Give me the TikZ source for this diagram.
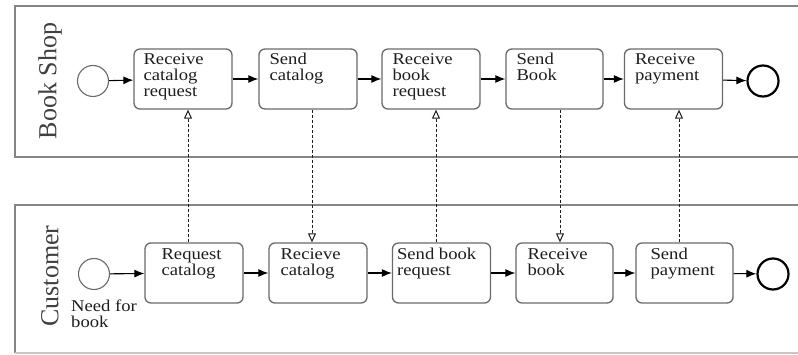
\documentclass[tikz,border=0pt]{standalone}
\usepackage{fontspec}
\setmainfont{Liberation Serif}[FakeStretch=1.13]
\newfontfamily\lanefont{Liberation Serif}
\usetikzlibrary{arrows.meta}
\definecolor{poolgray}{HTML}{858585}
\definecolor{boxgray}{HTML}{6A6A6A}
\definecolor{ink}{HTML}{1E1E1E}
\tikzset{
  pool/.style={draw=poolgray, line width=2pt},
  lanelabel/.style={font=\lanefont\fontsize{26}{28}\selectfont, text=ink!85, rotate=90, inner sep=0pt},
  task/.style={draw=boxgray, line width=1.3pt, rounded corners=6pt, minimum width=98pt, minimum height=60pt, inner sep=0pt},
  tasktext/.style={font=\fontsize{16.5}{16}\selectfont, text=ink, align=left, inner sep=0pt, anchor=north west},
  startev/.style={circle, draw=boxgray, line width=1.1pt, minimum size=31pt, inner sep=0pt},
  endev/.style={circle, draw=black, line width=2.2pt, minimum size=31pt, inner sep=0pt},
  seq/.style={draw=black, line width=1.1pt, -{Latex[length=10pt,width=8pt]}},
  msg/.style={draw=ink, line width=1pt, dash pattern=on 3pt off 2pt, -{Triangle[open,length=9pt,width=8pt]}},
}
\begin{document}
\begin{tikzpicture}[x=1pt,y=-1pt]
\useasboundingbox (0,0) rectangle (798,355);
\fill[white] (0,0) rectangle (798,355);
% pools
\draw[pool] (798,6) -- (15,6) -- (15,157) -- (798,157);
\draw[pool] (798,205) -- (15,205) -- (15,353);
\draw[poolgray!45, line width=1.5pt] (15,353) -- (798,353);
\node[lanelabel] (lshop) at (50,81) {Book Shop};
\node[lanelabel] (lcust) at (50,276) {Customer};
% top row
\node[startev] (s1) at (93,81) {};
\node[task] (T1) at (183,79) {};
\node[task] (T2) at (308,79) {};
\node[task] (T3) at (431,79) {};
\node[task, minimum width=97pt] (T4) at (554.5,79) {};
\node[task] (T5) at (673.5,79) {};
\node[endev] (e1) at (763,81) {};
\node[tasktext] (T1t) at ([xshift=10pt,yshift=-5pt]T1.north west) {Receive\\catalog\\request};
\node[tasktext] (T2t) at ([xshift=11pt,yshift=-5pt]T2.north west) {Send\\catalog};
\node[tasktext] (T3t) at ([xshift=11pt,yshift=-5pt]T3.north west) {Receive\\book\\request};
\node[tasktext] (T4t) at ([xshift=11pt,yshift=-5pt]T4.north west) {Send\\Book};
\node[tasktext] (T5t) at ([xshift=11pt,yshift=-5pt]T5.north west) {Receive\\payment};
\draw[seq] (s1) -- (T1);
\draw[seq] (T1) -- (T2);
\draw[seq] (T2) -- (T3);
\draw[seq] (T3) -- (T4);
\draw[seq] (T4) -- (T5);
\draw[seq] (T5) -- (e1);
% bottom row
\node[startev] (s2) at (94,274) {};
\node[tasktext] (need) at (71,300) {Need for\\book};
\node[task] (B1) at (194,273) {};
\node[task] (B2) at (318,273) {};
\node[task] (B3) at (441.5,273) {};
\node[task, minimum width=97pt] (B4) at (564.5,273) {};
\node[task, minimum width=97pt] (B5) at (684.5,273) {};
\node[endev] (e2) at (773,274) {};
\node[tasktext] (B1t) at ([xshift=17pt,yshift=-6pt]B1.north west) {Request\\catalog};
\node[tasktext] (B2t) at ([xshift=12pt,yshift=-6pt]B2.north west) {Recieve\\catalog};
\node[tasktext] (B3t) at ([xshift=5pt,yshift=-6pt]B3.north west) {Send book\\request};
\node[tasktext] (B4t) at ([xshift=12pt,yshift=-6pt]B4.north west) {Receive\\book};
\node[tasktext] (B5t) at ([xshift=15pt,yshift=-6pt]B5.north west) {Send\\payment};
\draw[seq] (s2) -- (B1);
\draw[seq] (B1) -- (B2);
\draw[seq] (B2) -- (B3);
\draw[seq] (B3) -- (B4);
\draw[seq] (B4) -- (B5);
\draw[seq] (B5) -- (e2);
% message flows
\coordinate (m1) at (188,0);
\coordinate (m2) at (312,0);
\coordinate (m3) at (436,0);
\coordinate (m4) at (560,0);
\coordinate (m5) at (679,0);
\draw[msg] (B1.north -| m1) -- (T1.south -| m1);
\draw[msg] (T2.south -| m2) -- (B2.north -| m2);
\draw[msg] (B3.north -| m3) -- (T3.south -| m3);
\draw[msg] (T4.south -| m4) -- (B4.north -| m4);
\draw[msg] (B5.north -| m5) -- (T5.south -| m5);
\end{tikzpicture}
\end{document}
